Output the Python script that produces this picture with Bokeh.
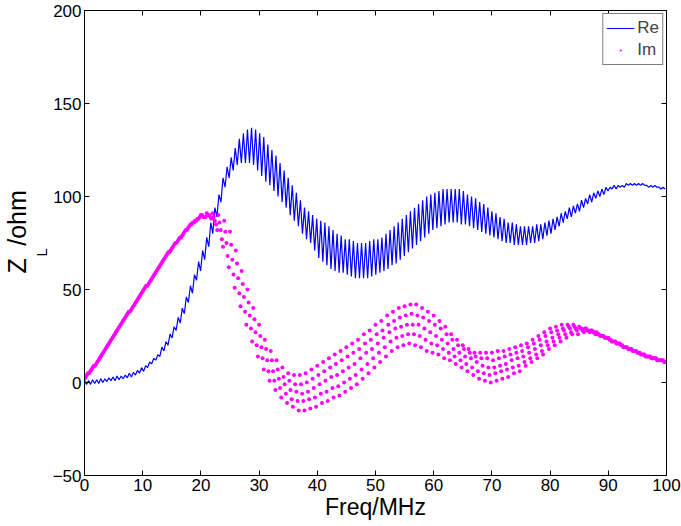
import numpy as np
from bokeh.plotting import figure
from bokeh.models import (Range1d, LinearAxis, Legend, LegendItem, Title,
                          FixedTicker, ColumnDataSource)
from bokeh.embed import file_html
from bokeh.resources import INLINE

# ---------------- data ----------------
x_ticks = [0, 10, 20, 30, 40, 50, 60, 70, 80, 90, 100]
y_ticks = [-50, 0, 50, 100, 150, 200]

# Re: sampled every 0.35 MHz, alternating local maxima / minima of the ripple
re_step = 0.35
re_peak = [
    1, 1, 1.5, 1.5, 2, 2, 2.5, 3, 3.5, 3.5,
    4, 5, 5.5, 6.5, 8, 9, 11, 13, 15, 19,
    22, 26, 30, 35, 40, 46, 52, 58, 65, 71,
    78, 86, 94, 101, 110, 116, 121, 126, 131, 134,
    136, 137, 136, 134, 132, 128, 125, 122, 118, 114,
    110, 106, 102, 98, 94, 92, 90, 88, 87, 86,
    84, 82, 80, 79, 77, 77, 76, 75, 75, 75,
    76, 77, 77, 78, 80, 82, 84, 86, 88, 90,
    92, 94, 96, 98, 100, 101, 102, 103, 104, 104,
    104, 104, 104, 103, 101, 100, 99, 97, 96, 94,
    92, 91, 89, 88, 86, 86, 85, 84, 84, 84,
    84, 85, 85, 86, 87, 88, 89, 91, 92, 94,
    95, 96, 98, 99, 101, 102, 103, 104, 105, 105,
    106, 106, 106, 107, 107, 107, 107, 107, 106, 106,
    106, 105, 105,
]
re_trough = [
    -1, -1, -0.5, -0.5, 0, 0.5, 1, 1, 1.5, 2,
    2.5, 3, 4, 5, 6, 8, 10, 12, 14, 17,
    20, 24, 28, 32, 37, 43, 48, 55, 60, 66,
    73, 80, 89, 97, 105, 110, 114, 117, 118, 118,
    118, 117, 114, 111, 108, 106, 103, 100, 97, 94,
    90, 87, 84, 80, 77, 75, 71, 67, 65, 63,
    61, 60, 59, 59, 58, 57, 56, 56, 56, 56,
    57, 58, 59, 60, 61, 63, 64, 66, 68, 70,
    72, 74, 76, 78, 80, 82, 83, 84, 85, 86,
    86, 86, 85, 85, 84, 83, 82, 81, 80, 79,
    78, 77, 76, 75, 75, 74, 74, 74, 74, 75,
    75, 76, 77, 79, 80, 82, 84, 86, 88, 89,
    91, 92, 94, 96, 97, 99, 100, 101, 103, 104,
    104, 105, 105, 106, 106, 106, 106, 106, 105, 105,
    105, 104, 104,
]

# Im: five visible strands of dots, each sampled every 1 MHz (strand j offset by 0.2*j MHz)
im_b1 = [
    2, 6, 10, 15, 20, 25, 30, 35, 39, 44, 49, 53, 58, 63, 68, 72, 76, 80, 84, 87,
    90, 91, 91, 90, 87, 81, 71, 60, 50, 40, 31, 23, 17, 12, 8, 5, 4, 4, 5, 7,
    9, 11, 13, 15, 17, 19, 21, 23, 26, 28, 31, 33, 36, 38, 40, 41, 42, 42, 40, 38,
    36, 33, 30, 26, 23, 20, 18, 16, 16, 16, 16, 17, 17, 18, 19, 20, 21, 23, 25, 27,
    29, 30, 31, 31, 31, 30, 29, 28, 27, 25, 24, 22, 21, 19, 18, 16, 15, 14, 13, 12,
]
im_b2 = [
    3, 7, 11, 16, 21, 26, 31, 36, 40, 45, 50, 54, 59, 64, 69, 73, 77, 81, 85, 87,
    90, 90, 89, 86, 81, 74, 64, 53, 43, 34, 25, 18, 12, 7, 3, 1, -1, -1, 0, 2,
    4, 6, 8, 10, 12, 14, 16, 18, 21, 23, 26, 28, 31, 33, 35, 36, 37, 36, 35, 33,
    31, 29, 26, 23, 20, 18, 16, 14, 13, 13, 12, 13, 14, 15, 16, 17, 19, 21, 23, 25,
    27, 28, 29, 30, 30, 29, 29, 28, 26, 25, 23, 22, 20, 19, 17, 16, 15, 14, 13, 12,
]
im_b3 = [
    4, 8, 12, 17, 22, 27, 32, 37, 41, 46, 51, 55, 60, 65, 70, 74, 78, 82, 85, 88,
    89, 90, 87, 82, 75, 66, 56, 46, 36, 27, 19, 12, 6, 2, -1, -4, -5, -6, -5, -3,
    -1, 1, 3, 4, 6, 8, 10, 13, 16, 18, 21, 24, 27, 29, 30, 31, 31, 31, 29, 27,
    25, 23, 21, 18, 16, 14, 13, 11, 9, 8, 8, 9, 10, 12, 13, 14, 16, 18, 20, 22,
    24, 26, 28, 29, 29, 29, 28, 27, 26, 24, 23, 21, 20, 18, 17, 16, 14, 13, 12, 12,
]
im_b4 = [
    5, 9, 13, 18, 23, 28, 33, 38, 42, 47, 52, 56, 61, 66, 70, 75, 78, 82, 86, 88,
    89, 89, 85, 77, 68, 58, 48, 38, 29, 20, 13, 6, 1, -3, -6, -9, -10, -10, -9, -8,
    -6, -5, -3, -2, 0, 2, 4, 7, 10, 13, 16, 19, 22, 24, 25, 26, 26, 25, 23, 21,
    20, 18, 16, 14, 12, 10, 8, 6, 5, 4, 5, 6, 7, 8, 9, 11, 13, 15, 17, 20,
    22, 24, 26, 27, 28, 28, 28, 27, 25, 24, 22, 21, 19, 18, 17, 15, 14, 13, 12, 11,
]
im_b5 = [
    5, 9, 14, 19, 24, 29, 34, 38, 43, 48, 52, 57, 62, 67, 71, 75, 79, 83, 86, 89,
    89, 88, 82, 73, 62, 51, 41, 31, 22, 14, 7, 1, -4, -8, -11, -13, -15, -15, -14, -13,
    -11, -10, -8, -7, -5, -3, -1, 2, 5, 8, 11, 14, 17, 19, 20, 21, 20, 19, 17, 16,
    15, 13, 12, 10, 8, 6, 4, 2, 1, 0, 1, 2, 3, 5, 6, 9, 11, 13, 15, 18,
    20, 22, 24, 26, 26, 27, 27, 26, 25, 24, 22, 21, 19, 18, 17, 15, 14, 13, 12, 11,
]
im_strands = [im_b1, im_b2, im_b3, im_b4, im_b5]
im_strand_offset = [0.0, 0.2, 0.4, 0.6, 0.8]

# ---------------- build sources ----------------
re_vals = []
for a, b in zip(re_peak, re_trough):
    re_vals.extend([a, b])
re_freq = np.arange(len(re_vals)) * re_step
re_src = ColumnDataSource(dict(f=re_freq, v=re_vals))

im_f, im_v = [], []
for off, band in zip(im_strand_offset, im_strands):
    im_f.extend(list(np.arange(len(band)) + off))
    im_v.extend(band)
im_src = ColumnDataSource(dict(f=im_f, v=im_v))

# ---------------- figure ----------------
FONT = "Liberation Sans"
BLUE = "#0000ff"
MAGENTA = "#ff00ff"

p = figure(width=681, height=526, output_backend="svg", toolbar_location=None,
           x_range=Range1d(0, 100), y_range=Range1d(-50, 200),
           min_border_left=78, min_border_right=15, min_border_top=10,
           min_border_bottom=51)
p.background_fill_color = "white"
p.border_fill_color = "white"
p.outline_line_color = "black"
p.xgrid.visible = False
p.ygrid.visible = False

def style_axis(ax, ticks, show_labels):
    ax.ticker = FixedTicker(ticks=ticks)
    ax.major_tick_in = 5
    ax.major_tick_out = 0
    ax.minor_tick_line_color = None
    ax.axis_line_color = "black"
    ax.major_tick_line_color = "black"
    ax.major_label_text_font = FONT
    ax.major_label_text_color = "black"
    if show_labels:
        ax.major_label_text_font_size = "17px"
        ax.major_label_standoff = 3
    else:
        ax.major_label_text_font_size = "0px"
        ax.major_label_standoff = 0

style_axis(p.xaxis[0], x_ticks, True)
style_axis(p.yaxis[0], y_ticks, True)
p.xaxis[0].axis_label = "Freq/MHz"
p.xaxis[0].axis_label_text_font = FONT
p.xaxis[0].axis_label_text_font_size = "23px"
p.xaxis[0].axis_label_text_font_style = "normal"
p.xaxis[0].axis_label_standoff = 0
p.xaxis[0].axis_label_text_color = "black"

ax_top = LinearAxis()
style_axis(ax_top, x_ticks, False)
p.add_layout(ax_top, "above")
ax_right = LinearAxis()
style_axis(ax_right, y_ticks, False)
p.add_layout(ax_right, "right")

r_re = p.line("f", "v", source=re_src, line_color=BLUE, line_width=1.2)
r_im = p.scatter("f", "v", source=im_src, marker="dot", size=16,
                 line_color=MAGENTA, fill_color=MAGENTA)

legend = Legend(items=[LegendItem(label="Re", renderers=[r_re]),
                       LegendItem(label="Im", renderers=[r_im])],
                location="top_right", margin=3, padding=3, spacing=0,
                glyph_width=28, glyph_height=22, label_height=22,
                label_standoff=3, label_text_font=FONT,
                label_text_font_size="17px", border_line_color="black",
                border_line_width=1, background_fill_color="white",
                background_fill_alpha=1.0)
p.add_layout(legend)

# y-axis label "Z_L /ohm": subscript column (inner) + main column (outer)
t_sub = Title(text="L", align="left", offset=219, standoff=0,
              text_font=FONT, text_font_size="15px", text_font_style="normal",
              text_color="black")
t_main = Title(text="Z\u2002/ohm", align="left", offset=202, standoff=0,
               text_font=FONT, text_font_size="25px", text_font_style="normal",
               text_color="black")
p.add_layout(t_sub, "left")
p.add_layout(t_main, "left")

open("out.html", "w").write(file_html(p, INLINE))
